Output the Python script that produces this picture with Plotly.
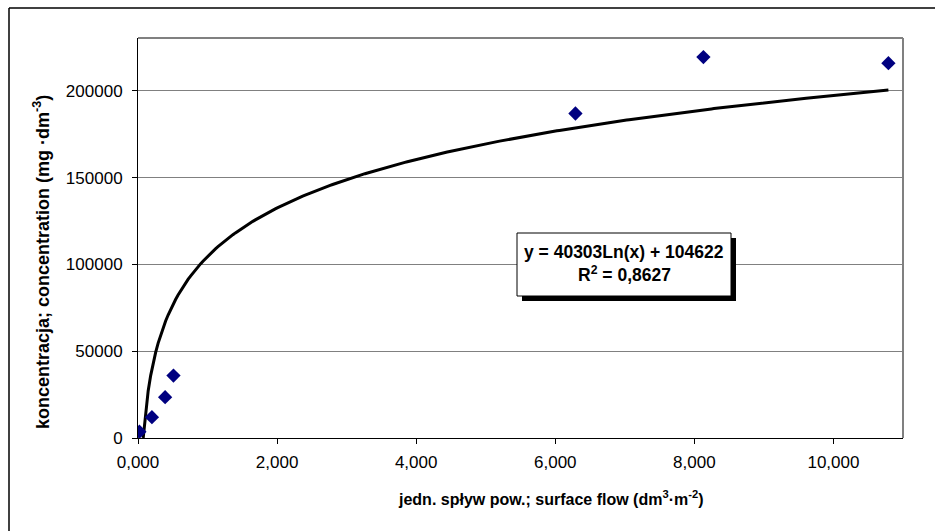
import numpy as np
import plotly.graph_objects as go

# Data
flow = [0.02, 0.20, 0.39, 0.51, 6.29, 8.13, 10.79]
concentration = [3600, 12000, 23500, 36000, 187000, 219500, 216000]

# Logarithmic trendline given on the chart
coef_a = 40303
coef_b = 104622
r2_text = "0,8627"

x_ticks = [0, 2, 4, 6, 8, 10]
x_tick_labels = ["0,000", "2,000", "4,000", "6,000", "8,000", "10,000"]
y_ticks = [0, 50000, 100000, 150000, 200000]
y_tick_labels = ["0", "50000", "100000", "150000", "200000"]

# trendline from where it crosses zero up to the largest x
x_start = float(np.exp(-coef_b / coef_a))
trend_x = np.linspace(x_start, max(flow), 300)
trend_y = coef_a * np.log(trend_x) + coef_b

FONT = "Liberation Sans, Arial, sans-serif"

fig = go.Figure()
fig.add_trace(go.Scatter(
    x=trend_x, y=trend_y, mode="lines",
    line=dict(color="black", width=3), hoverinfo="skip", showlegend=False))
fig.add_trace(go.Scatter(
    x=flow, y=concentration, mode="markers",
    marker=dict(symbol="diamond", size=11, color="#000080"),
    showlegend=False))

W, H = 935, 531
L, R, T, B = 138, 32, 38, 93
pw = W - L - R
ph = H - T - B

def px(xp):
    return (xp - L) / pw

def py(yp):
    return (H - B - yp) / ph

fig.update_layout(
    width=W, height=H,
    margin=dict(l=L, r=R, t=T, b=B),
    paper_bgcolor="white", plot_bgcolor="white",
    font=dict(family=FONT, color="black"),
    xaxis=dict(
        range=[0, 11], tickvals=x_ticks, ticktext=x_tick_labels,
        showgrid=False, zeroline=False,
        showline=True, linecolor="black", linewidth=1, mirror=False,
        ticks="outside", ticklen=5, tickcolor="black",
        ticklabelstandoff=4,
        tickfont=dict(size=17, family=FONT),
    ),
    yaxis=dict(
        range=[0, 230500], tickvals=y_ticks, ticktext=y_tick_labels,
        showgrid=True, gridcolor="#808080", gridwidth=1, zeroline=False,
        showline=True, linecolor="black", linewidth=1,
        ticks="outside", ticklen=5, tickcolor="black",
        ticklabelstandoff=6,
        tickfont=dict(size=17, family=FONT),
    ),
    shapes=[
        # plot border top/right (grey)
        dict(type="line", xref="paper", yref="paper", x0=0, x1=1, y0=1, y1=1,
             line=dict(color="#808080", width=2)),
        dict(type="line", xref="paper", yref="paper", x0=1, x1=1, y0=0, y1=1,
             line=dict(color="#808080", width=2)),
        # outer chart border (left/top)
        dict(type="line", xref="paper", yref="paper", x0=px(9), x1=px(9), y0=py(8), y1=py(540),
             line=dict(color="black", width=1.5)),
        dict(type="line", xref="paper", yref="paper", x0=px(9), x1=px(945), y0=py(8), y1=py(8),
             line=dict(color="black", width=1.5)),
        # label box shadow and box
        dict(type="rect", xref="paper", yref="paper", layer="above",
             x0=px(522), x1=px(736), y0=py(301), y1=py(238),
             fillcolor="black", line=dict(width=0)),
        dict(type="rect", xref="paper", yref="paper", layer="above",
             x0=px(517), x1=px(731), y0=py(296), y1=py(233),
             fillcolor="white", line=dict(color="black", width=1)),
    ],
    annotations=[
        dict(xref="paper", yref="paper", x=px(624), y=py(252),
             text="<b>y = 40303Ln(x) + 104622</b>", showarrow=False,
             font=dict(size=17.5, family=FONT), xanchor="center", yanchor="middle"),
        dict(xref="paper", yref="paper", x=px(624), y=py(274),
             text="<b>R<sup>2</sup> = " + r2_text + "</b>", showarrow=False,
             font=dict(size=17.5, family=FONT), xanchor="center", yanchor="middle"),
        dict(xref="paper", yref="paper", x=px(551), y=py(498),
             text="<b>jedn. spływ pow.; surface flow (dm<sup>3</sup>·m<sup>-2</sup>)</b>",
             showarrow=False, font=dict(size=16, family=FONT),
             xanchor="center", yanchor="middle"),
        dict(xref="paper", yref="paper", x=px(41), y=py(262),
             text="<b>koncentracja; concentration (mg ·dm<sup>-3</sup>)</b>",
             showarrow=False, textangle=-90, font=dict(size=18, family=FONT),
             xanchor="center", yanchor="middle"),
    ],
)

fig.write_html("out.html")
